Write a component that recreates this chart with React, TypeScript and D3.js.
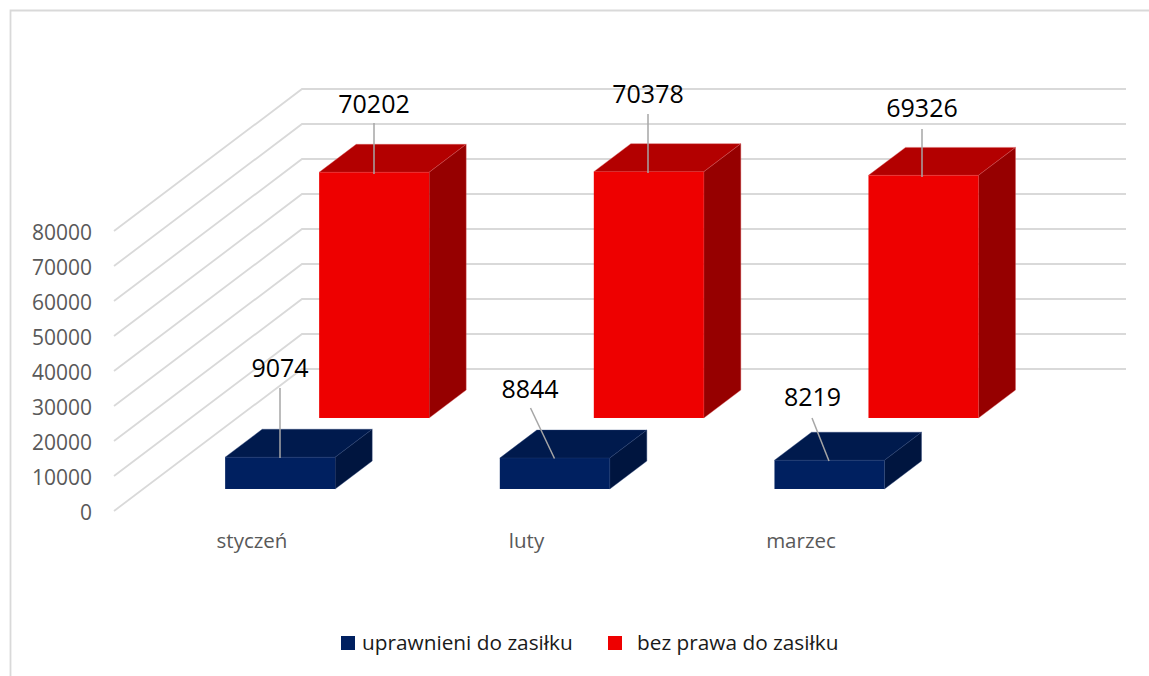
import React from "react";
import * as d3 from "d3";

const categories = ["styczeń", "luty", "marzec"];
const seriesNames = ["uprawnieni do zasiłku", "bez prawa do zasiłku"];
const eligible = [9074, 8844, 8219];
const notEligible = [70202, 70378, 69326];
const yTicks = [0, 10000, 20000, 30000, 40000, 50000, 60000, 70000, 80000];

// layout (not data)
const W = 1149, H = 676;
const frontX = 114, frontY = 511, depthX = 188, depthY = -142, plotW = 824;
const barOffset = 82, barW = 110;
const seriesDepth = [[0.155, 0.352], [0.655, 0.852]];
const palette = [
  { front: "#002060", top: "#001a4d", side: "#00153f", edge: "#2a4478" },
  { front: "#ee0000", top: "#b30000", side: "#960000", edge: "#d8595a" },
];
const labelLayout = [
  [{ base: 377, lx: 280, ly: 388, ex: 280, ey: 458 },
   { base: 398, lx: 530.5, ly: 408, ex: 554.5, ey: 458.5 },
   { base: 406, lx: 812, ly: 418, ex: 829, ey: 461 }],
  [{ base: 112.5, lx: 374, ly: 123, ex: 374, ey: 174 },
   { base: 103, lx: 648, ly: 114, ex: 648, ey: 173 },
   { base: 117, lx: 922, ly: 129, ex: 922, ey: 177 }],
];
const labelCx = [[280, 530, 812.5], [374, 648, 922]];
const catCx = [252, 526.5, 801];

const FONT = "'Open Sans', sans-serif";
const GRID = "#d9d9d9";

const yScale = d3.scaleLinear().domain([0, 80000]).range([0, -280]);
const depthScale = d3.scaleLinear().domain([0, 1]);
const dxAt = depthScale.copy().range([0, depthX]);
const dyAt = depthScale.copy().range([0, depthY]);
const xScale = d3.scaleBand().domain(categories).range([frontX, frontX + plotW]);

const poly = (pts: number[][]) => d3.line()(pts as [number, number][]) + "Z";

function Bar({ cat, value, s }: { cat: string; value: number; s: number }) {
  const [z0, z1] = seriesDepth[s];
  const c = palette[s];
  const x0 = (xScale(cat) as number) + barOffset + dxAt(z0);
  const x1 = x0 + barW;
  const yb = frontY + dyAt(z0);
  const yt = yb + yScale(value);
  const ox = dxAt(z1) - dxAt(z0);
  const oy = dyAt(z1) - dyAt(z0);
  return (
    <g>
      <path d={poly([[x0, yt], [x0 + ox, yt + oy], [x1 + ox, yt + oy], [x1, yt]])} fill={c.top} stroke={c.edge} strokeWidth={0.4} />
      <path d={poly([[x1, yt], [x1 + ox, yt + oy], [x1 + ox, yb + oy], [x1, yb]])} fill={c.side} stroke={c.edge} strokeWidth={0.4} />
      <rect x={x0} y={yt} width={barW} height={yb - yt} fill={c.front} />
    </g>
  );
}

export default function App() {
  const series = [eligible, notEligible];
  return (
    <svg width={W} height={H} viewBox={`0 0 ${W} ${H}`} style={{ position: "absolute", left: 0, top: 0, display: "block", background: "#fff" }}>
      <path d={`M10.5 ${H}V10.5H${W}`} fill="none" stroke={GRID} strokeWidth={1.8} />
      {yTicks.map((t) => {
        const y = frontY + yScale(t);
        return (
          <g key={t}>
            <path d={`M${frontX} ${y}L${frontX + depthX} ${y + depthY}H${frontX + depthX + plotW}`} fill="none" stroke={GRID} strokeWidth={1.8} />
            <text x={92} y={y + 1.5} dy="0.36em" textAnchor="end" fontFamily={FONT} fontSize={21} fill="#595959">{t}</text>
          </g>
        );
      })}
      {categories.map((c, i) => (
        <g key={c}>
          <Bar cat={c} value={eligible[i]} s={0} />
          <Bar cat={c} value={notEligible[i]} s={1} />
          <text x={catCx[i]} y={547.5} textAnchor="middle" fontFamily={FONT} fontSize={20.5} fill="#595959">{c}</text>
        </g>
      ))}
      {series.map((vals, s) =>
        vals.map((v, i) => {
          const l = labelLayout[s][i];
          return (
            <g key={`${s}-${i}`}>
              <line x1={l.lx} y1={l.ly} x2={l.ex} y2={l.ey} stroke="#a6a6a6" strokeWidth={1.5} />
              <text x={labelCx[s][i]} y={l.base} textAnchor="middle" fontFamily={FONT} fontSize={25} fill="#000">{v}</text>
            </g>
          );
        })
      )}
      {seriesNames.map((n, s) => {
        const sx = [341, 608][s];
        return (
          <g key={n}>
            <rect x={sx} y={636} width={14} height={14} fill={palette[s].front} />
            <text x={[362, 637][s]} y={650} fontFamily={FONT} fontSize={20.8} fill="#1a1a1a">{n}</text>
          </g>
        );
      })}
    </svg>
  );
}
